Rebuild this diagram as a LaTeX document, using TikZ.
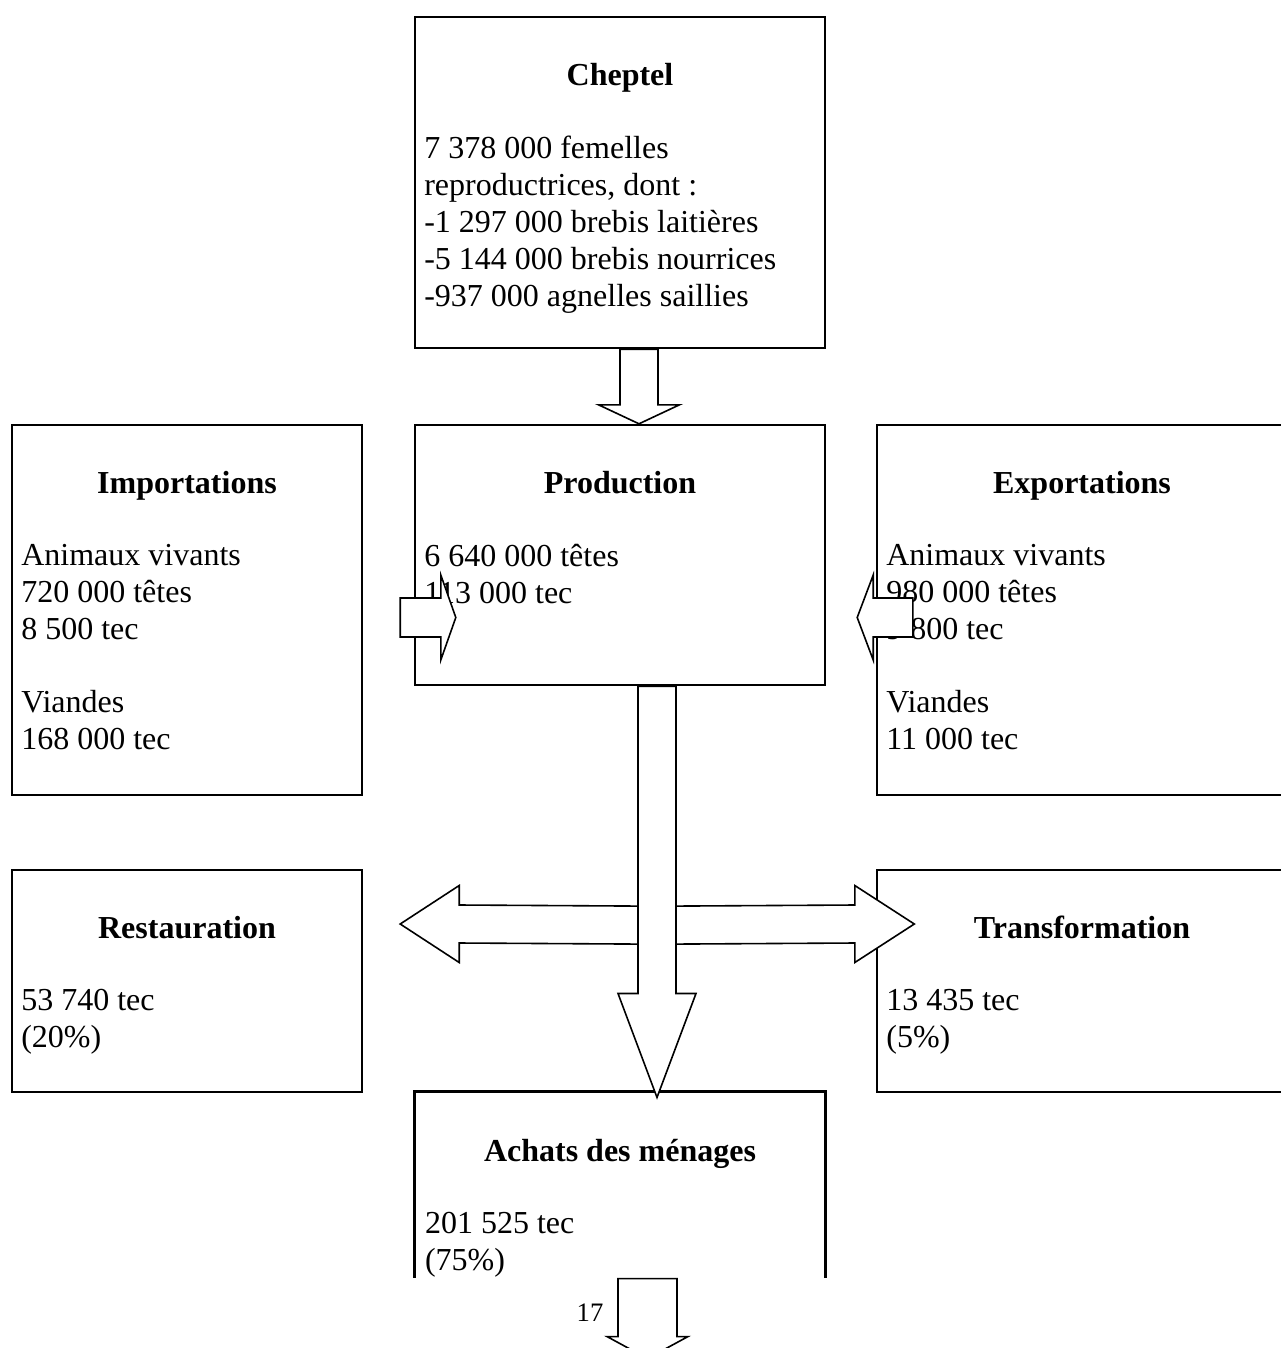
\documentclass[tikz,border=0pt]{standalone}
\usepackage{fontspec}
\setmainfont{Liberation Serif}
\usetikzlibrary{calc}

\newcommand{\px}{0.375pt}
% fleche pleine vers le bas : depart, pointe, demi-tige, demi-tete, longueur tete
\newcommand{\flechebas}[5]{%
  \draw[fleche] ($#1+(-#3,0)$) -- ($#2+(-#3,-#5)$) -- ($#2+(-#4,-#5)$) -- #2
    -- ($#2+(#4,-#5)$) -- ($#2+(#3,-#5)$) -- ($#1+(#3,0)$) -- cycle;}
% fleche pleine horizontale : depart, pointe, demi-tige, demi-tete, decalage base de tete
\newcommand{\flechehoriz}[5]{%
  \draw[fleche] ($#1+(0,-#3)$) -- ($#2+(#5,-#3)$) -- ($#2+(#5,-#4)$) -- #2
    -- ($#2+(#5,#4)$) -- ($#2+(#5,#3)$) -- ($#1+(0,#3)$) -- cycle;}

\begin{document}
\begin{tikzpicture}
      [%%%%%%%%%%%%%%%%%%%%%%%%%%%%%%
          x=\px, y=-\px,
          box/.style={rectangle,draw=black,line width=0.9pt,inner sep=0},
          titre/.style={font=\fontsize{12pt}{13.8pt}\selectfont\bfseries,anchor=base,inner sep=0},
          texte/.style={font=\fontsize{12pt}{13.8pt}\selectfont,align=left,anchor=north west,
                        inner sep=0,execute at begin node=\strut},
          fleche/.style={draw=black,fill=white,line width=0.6pt,line join=miter}
      ]%%%%%%%%%%%%%%%%%%%%%%%%%%%%%%

  \useasboundingbox (0,0) rectangle (1280,1348);

  % les cadres
  \node[box,minimum width=410*\px,minimum height=331*\px] (cheptel) at (620,182.5) {};
  \node[box,minimum width=350*\px,minimum height=370*\px] (importations) at (187,610) {};
  \node[box,minimum width=410*\px,minimum height=260*\px] (production) at (620,555) {};
  \node[box,minimum width=410*\px,minimum height=370*\px] (exportations) at (1082,610) {};
  \node[box,minimum width=350*\px,minimum height=222*\px] (restauration) at (187,981) {};
  \node[box,minimum width=410*\px,minimum height=222*\px] (transformation) at (1082,981) {};
  \node[minimum width=410*\px,minimum height=185*\px,inner sep=0] (achats) at (620,1184.5) {};
  \draw[line width=0.8pt] (achats.south west) -- (achats.north west)
      -- (achats.north east) -- (achats.south east);

  % les textes
  \node[titre] (cheptel-titre) at ($(cheptel.north)+(0,70)$) {Cheptel};
  \node[texte] (cheptel-texte) at ($(cheptel.north west)+(10,120)$)
      {7 378 000 femelles\\reproductrices, dont :\\-1 297 000 brebis laitières\\
       -5 144 000 brebis nourrices\\-937 000 agnelles saillies};

  \node[titre] (importations-titre) at ($(importations.north)+(0,70)$) {Importations};
  \node[texte] (importations-texte) at ($(importations.north west)+(10,120)$)
      {Animaux vivants\\720 000 têtes\\8 500 tec\\[13.8pt]Viandes\\168 000 tec};

  \node[titre] (production-titre) at ($(production.north)+(0,70)$) {Production};
  \node[texte] (production-texte) at ($(production.north west)+(10,120)$)
      {6 640 000 têtes\\113 000 tec};

  \node[titre] (exportations-titre) at ($(exportations.north)+(0,70)$) {Exportations};
  \node[texte] (exportations-texte) at ($(exportations.north west)+(10,120)$)
      {Animaux vivants\\980 000 têtes\\9 800 tec\\[13.8pt]Viandes\\11 000 tec};

  \node[titre] (restauration-titre) at ($(restauration.north)+(0,70)$) {Restauration};
  \node[texte] (restauration-texte) at ($(restauration.north west)+(10,120)$)
      {53 740 tec\\(20\%)};

  \node[titre] (transformation-titre) at ($(transformation.north)+(0,70)$) {Transformation};
  \node[texte] (transformation-texte) at ($(transformation.north west)+(10,120)$)
      {13 435 tec\\(5\%)};

  \node[titre] (achats-titre) at ($(achats.north)+(0,70)$) {Achats des ménages};
  \node[texte] (achats-texte) at ($(achats.north west)+(10,120)$)
      {201 525 tec\\(75\%)};

  \node[font=\fontsize{10pt}{12pt}\selectfont,inner sep=0] (page) at (590,1313) {17};

  % les fleches
  \coordinate (c1) at ($(cheptel.south)+(19,0)$);
  \coordinate (c2) at ($(production.north)+(19,0)$);
  \flechebas{(c1)}{(c2)}{19}{40.5}{19}

  \coordinate (i1) at ($(importations.east)+(37,7.5)$);
  \coordinate (i2) at ($(production.west)+(42,62.5)$);
  \flechehoriz{(i1)}{(i2)}{19.5}{42.5}{-15}

  \coordinate (e1) at ($(exportations.west)+(37,7.5)$);
  \coordinate (e2) at ($(production.east)+(31,62.5)$);
  \flechehoriz{(e1)}{(e2)}{19.5}{42.5}{16}

  \coordinate (p1) at ($(production.south)+(37,239)$);
  \coordinate (r2) at ($(restauration.east)+(37,-57)$);
  \coordinate (t2) at ($(transformation.west)+(38.5,-57)$);
  \flechehoriz{(p1)}{(r2)}{19}{38.5}{59}
  \flechehoriz{(p1)}{(t2)}{19}{38.5}{-59.5}

  \coordinate (p0) at ($(production.south)+(37,0)$);
  \coordinate (a2) at ($(achats.north)+(37,6)$);
  \flechebas{(p0)}{(a2)}{19}{39}{104}

  \coordinate (a3) at ($(achats.south)+(27.5,1)$);
  \coordinate (a4) at ($(achats.south)+(27.5,81)$);
  \flechebas{(a3)}{(a4)}{29.5}{40.5}{22}

\end{tikzpicture}
\end{document}
